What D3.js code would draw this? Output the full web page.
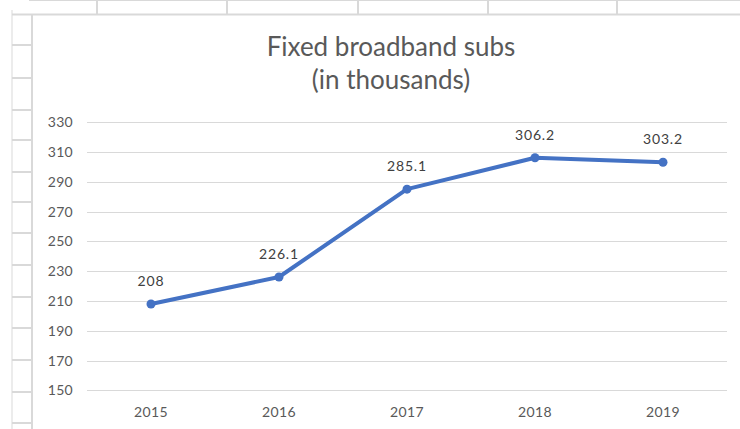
<!DOCTYPE html>
<html>
<head>
<meta charset="utf-8">
<script src="https://cdn.jsdelivr.net/npm/d3@7"></script>
<style>
  html, body { margin: 0; padding: 0; background: #fff; }
  svg { display: block; }
</style>
</head>
<body>
<svg id="chart" width="740" height="429"></svg>
<script>
const years = ["2015", "2016", "2017", "2018", "2019"];
const subs = [208, 226.1, 285.1, 306.2, 303.2];
const yTicks = [150, 170, 190, 210, 230, 250, 270, 290, 310, 330];
const titleLines = ["Fixed broadband subs", "(in thousands)"];

const svg = d3.select("#chart");
const W = 740, H = 429;
const FONT = "Lato, 'Open Sans', sans-serif";

// spreadsheet background
const bg = svg.append("g");
const gridCol = "#d9d9d9";
bg.append("line").attr("x1", 29).attr("x2", W).attr("y1", 0.5).attr("y2", 0.5).attr("stroke", gridCol);
bg.append("line").attr("x1", 12).attr("x2", W).attr("y1", 14.5).attr("y2", 14.5).attr("stroke", gridCol).attr("stroke-width", 2);
[97, 227, 358, 488, 617].forEach(x => {
  bg.append("line").attr("x1", x).attr("x2", x).attr("y1", 0).attr("y2", 14).attr("stroke", gridCol).attr("stroke-width", 2);
});
bg.append("line").attr("x1", 12).attr("x2", 12).attr("y1", 10).attr("y2", H).attr("stroke", gridCol);
bg.append("line").attr("x1", 32).attr("x2", 32).attr("y1", 14).attr("y2", H).attr("stroke", gridCol).attr("stroke-width", 2);
[45, 78, 110, 140, 172, 202, 233, 265, 297, 328, 360, 392, 423].forEach(y => {
  bg.append("line").attr("x1", 12).attr("x2", 32).attr("y1", y).attr("y2", y).attr("stroke", gridCol).attr("stroke-width", 2);
});

// scales
const x = d3.scaleBand().domain(years).range([87, 727]);
const y = d3.scaleLinear().domain([150, 330]).range([390.3, 122.3]);

// title
const title = svg.append("text")
  .attr("x", 391).attr("text-anchor", "middle")
  .attr("font-family", FONT)
  .attr("font-size", 26).attr("fill", "#595959");
titleLines.forEach((t, i) => {
  title.append("tspan").attr("x", 391).attr("y", 56 + i * 33).text(t);
});

// gridlines
svg.append("g").selectAll("line").data(yTicks).join("line")
  .attr("x1", 87).attr("x2", 727)
  .attr("y1", d => Math.round(y(d)) + 0.5).attr("y2", d => Math.round(y(d)) + 0.5)
  .attr("stroke", "#d9d9d9").attr("stroke-width", 1);

// y axis
const yAxis = svg.append("g").attr("transform", "translate(80,0)")
  .call(d3.axisLeft(y).tickValues(yTicks).tickSize(0).tickPadding(7));
yAxis.select(".domain").remove();
yAxis.selectAll("text").attr("font-family", FONT)
  .attr("font-size", 14).attr("letter-spacing", 0.3).attr("fill", "#595959");

// x axis
const xAxis = svg.append("g").attr("transform", "translate(0,402)")
  .call(d3.axisBottom(x).tickSize(0).tickPadding(5));
xAxis.select(".domain").remove();
xAxis.selectAll("text").attr("font-family", FONT)
  .attr("font-size", 14).attr("letter-spacing", 0.4).attr("fill", "#595959");

// line
const cx = d => x(d) + x.bandwidth() / 2;
const line = d3.line().x((d, i) => cx(years[i])).y(d => y(d));
svg.append("path").datum(subs)
  .attr("d", line).attr("fill", "none")
  .attr("stroke", "#4472C4").attr("stroke-width", 4)
  .attr("stroke-linejoin", "round").attr("stroke-linecap", "round");

svg.append("g").selectAll("circle").data(subs).join("circle")
  .attr("cx", (d, i) => cx(years[i])).attr("cy", d => y(d))
  .attr("r", 4.5).attr("fill", "#4472C4");

// data labels
svg.append("g").selectAll("text").data(subs).join("text")
  .attr("x", (d, i) => cx(years[i])).attr("y", d => y(d) - 18)
  .attr("text-anchor", "middle")
  .attr("font-family", FONT)
  .attr("font-size", 14).attr("letter-spacing", 0.8).attr("fill", "#404040")
  .text(d => d);
</script>
</body>
</html>
